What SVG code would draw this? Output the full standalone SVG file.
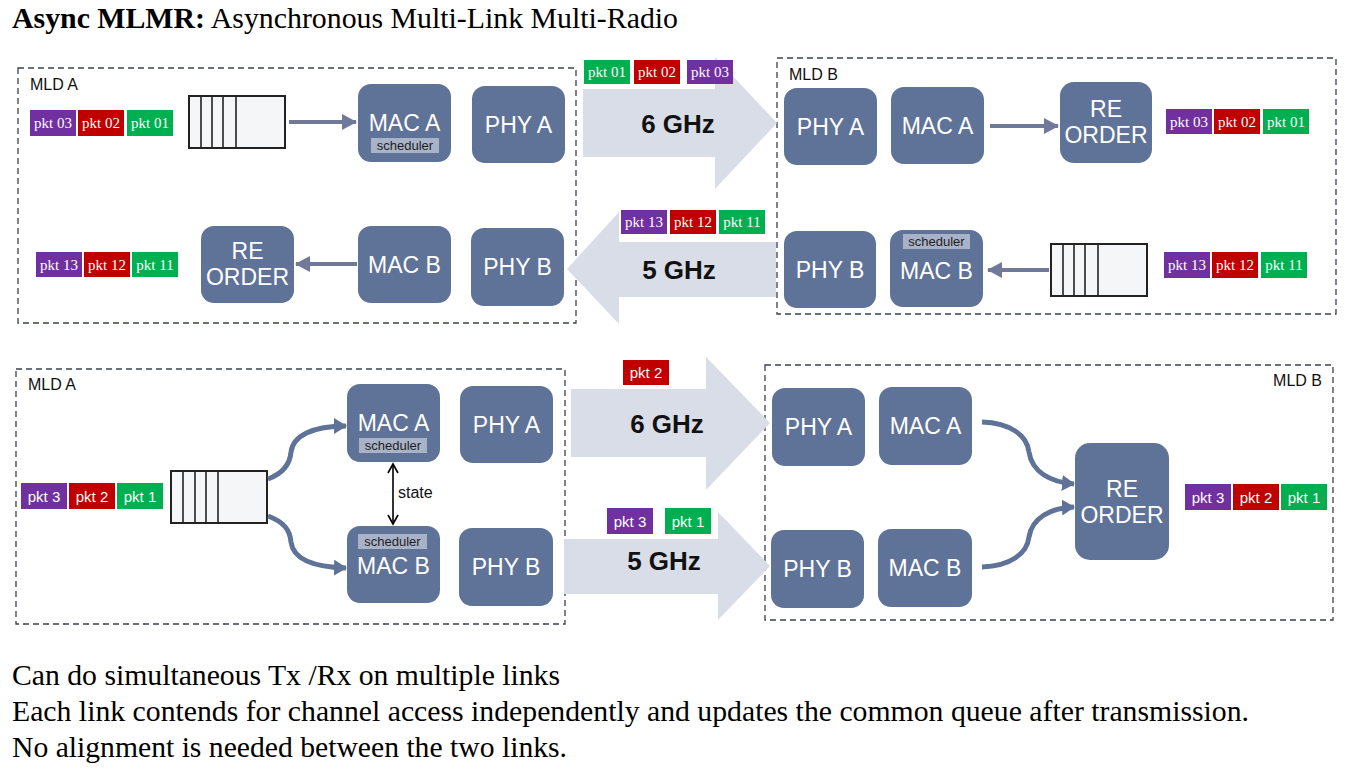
<svg xmlns="http://www.w3.org/2000/svg" width="1356" height="779" viewBox="0 0 1356 779">
<style>
.node{fill:#5f7297}
.nt{fill:#fff;font-family:"Liberation Sans",Arial,sans-serif;font-size:23px;text-anchor:middle}
.sch{fill:#a9b3c7}
.scht{fill:#1e1e24;font-family:"Liberation Sans",Arial,sans-serif;font-size:13px;text-anchor:middle}
.P{fill:#7030a0}.R{fill:#c00000}.G{fill:#00b050}
.tt{fill:#fff;font-family:"Liberation Serif","Times New Roman",serif;font-size:15px;text-anchor:middle}
.ts{fill:#fff;font-family:"Liberation Sans",Arial,sans-serif;font-size:15px;text-anchor:middle}
.box{fill:none;stroke:#3c4150;stroke-width:1.3;stroke-dasharray:6 4}
.lbl{fill:#111;font-family:"Liberation Sans",Arial,sans-serif;font-size:16px}
.big{fill:#d9dde7}
.ghz{fill:#111;font-family:"Liberation Sans",Arial,sans-serif;font-size:26px;font-weight:bold;text-anchor:middle}
.q{fill:#f5f6f8;stroke:#222;stroke-width:2}
.qd{stroke:#222;stroke-width:1.6}
.sa{fill:none;stroke:#70799a;stroke-width:4}
.ca{fill:none;stroke:#5f7297;stroke-width:5}
.body{fill:#000;font-family:"Liberation Serif","Times New Roman",serif;font-size:30px}
</style>
<defs>
<marker id="ahg" markerUnits="userSpaceOnUse" markerWidth="15" markerHeight="16" refX="14" refY="8" orient="auto"><path d="M0,0 L15,8 L0,16 z" fill="#70799a"/></marker>
<marker id="ahb" markerUnits="userSpaceOnUse" markerWidth="13" markerHeight="16" refX="12" refY="8" orient="auto"><path d="M0,0 L13,8 L0,16 z" fill="#5f7297"/></marker>
<marker id="ahs" markerUnits="userSpaceOnUse" markerWidth="12" markerHeight="12" refX="10" refY="6" orient="auto-start-reverse"><path d="M1,1 L10,6 L1,11" fill="none" stroke="#000" stroke-width="1.6"/></marker>
</defs>
<rect width="1356" height="779" fill="#fff"/>

<text x="12" y="28" class="body" textLength="666" lengthAdjust="spacingAndGlyphs"><tspan font-weight="bold">Async MLMR:</tspan> Asynchronous Multi-Link Multi-Radio</text>

<!-- ===== TOP SCENARIO ===== -->
<g id="top-mldA">
<rect class="box" x="18" y="68" width="558" height="255"/>
<text class="lbl" x="30" y="90">MLD A</text>
</g>
<g id="top-mldB">
<rect class="box" x="777" y="58" width="559" height="256"/>
<text class="lbl" x="789" y="80">MLD B</text>
</g>

<g id="top-link-6ghz">
<polygon class="big" points="583,89 715,89 715,57 777,123 715,189 715,157 583,157"/>
<text class="ghz" x="678" y="133">6 GHz</text>
<rect class="G" x="584" y="60" width="46" height="24"/><text class="tt" x="607" y="77">pkt 01</text>
<rect class="R" x="634" y="60" width="46" height="24"/><text class="tt" x="657" y="77">pkt 02</text>
<rect class="P" x="687" y="60" width="46" height="24"/><text class="tt" x="710" y="77">pkt 03</text>
</g>
<g id="top-link-5ghz">
<polygon class="big" points="776,242 619,242 619,212 567,269 619,324 619,297 776,297"/>
<text class="ghz" x="679" y="279">5 GHz</text>
<rect class="P" x="621" y="210" width="46" height="24"/><text class="tt" x="644" y="227">pkt 13</text>
<rect class="R" x="670" y="210" width="46" height="24"/><text class="tt" x="693" y="227">pkt 12</text>
<rect class="G" x="719" y="210" width="46" height="24"/><text class="tt" x="742" y="227">pkt 11</text>
</g>

<g id="top-A-pkts-tx">
<rect class="P" x="30" y="110" width="46" height="26"/><text class="tt" x="53" y="128">pkt 03</text>
<rect class="R" x="78" y="110" width="46" height="26"/><text class="tt" x="101" y="128">pkt 02</text>
<rect class="G" x="127" y="110" width="46" height="26"/><text class="tt" x="150" y="128">pkt 01</text>
</g>
<g id="top-A-queue">
<rect class="q" x="189" y="96" width="96" height="52"/>
<line class="qd" x1="201" y1="96" x2="201" y2="148"/><line class="qd" x1="212" y1="96" x2="212" y2="148"/><line class="qd" x1="223" y1="96" x2="223" y2="148"/><line class="qd" x1="236" y1="96" x2="236" y2="148"/>
</g>
<g id="top-A-macA">
<rect class="node" x="358" y="84" width="93" height="78" rx="13"/>
<text class="nt" x="404.5" y="131">MAC A</text>
<rect class="sch" x="371" y="138" width="68" height="15"/>
<text class="scht" x="405" y="150">scheduler</text>
</g>
<g id="top-A-phyA">
<rect class="node" x="472" y="86" width="93" height="77" rx="13"/>
<text class="nt" x="518.5" y="133">PHY A</text>
</g>
<g id="top-A-reorder">
<rect class="node" x="201" y="226" width="93" height="77" rx="13"/>
<text class="nt" x="247.5" y="259">RE</text>
<text class="nt" x="247.5" y="285">ORDER</text>
</g>
<g id="top-A-macB">
<rect class="node" x="358" y="226" width="93" height="77" rx="13"/>
<text class="nt" x="404.5" y="273">MAC B</text>
</g>
<g id="top-A-phyB">
<rect class="node" x="471" y="228" width="93" height="78" rx="13"/>
<text class="nt" x="517.5" y="275">PHY B</text>
</g>
<g id="top-A-pkts-rx">
<rect class="P" x="36" y="252" width="46" height="25"/><text class="tt" x="59" y="270">pkt 13</text>
<rect class="R" x="84" y="252" width="46" height="25"/><text class="tt" x="107" y="270">pkt 12</text>
<rect class="G" x="132" y="252" width="46" height="25"/><text class="tt" x="155" y="270">pkt 11</text>
</g>

<g id="top-B-phyA">
<rect class="node" x="784" y="88" width="93" height="77" rx="13"/>
<text class="nt" x="830.5" y="135">PHY A</text>
</g>
<g id="top-B-macA">
<rect class="node" x="891" y="87" width="93" height="77" rx="13"/>
<text class="nt" x="937.5" y="134">MAC A</text>
</g>
<g id="top-B-reorder">
<rect class="node" x="1060" y="82" width="92" height="81" rx="14"/>
<text class="nt" x="1106" y="117">RE</text>
<text class="nt" x="1106" y="143">ORDER</text>
</g>
<g id="top-B-pkts-rx">
<rect class="P" x="1166" y="109" width="46" height="25"/><text class="tt" x="1189" y="127">pkt 03</text>
<rect class="R" x="1214" y="109" width="46" height="25"/><text class="tt" x="1237" y="127">pkt 02</text>
<rect class="G" x="1263" y="109" width="46" height="25"/><text class="tt" x="1286" y="127">pkt 01</text>
</g>
<g id="top-B-phyB">
<rect class="node" x="784" y="231" width="92" height="77" rx="13"/>
<text class="nt" x="830" y="278">PHY B</text>
</g>
<g id="top-B-macB">
<rect class="node" x="890" y="230" width="93" height="77" rx="13"/>
<rect class="sch" x="903" y="234" width="67" height="15"/>
<text class="scht" x="936.5" y="246">scheduler</text>
<text class="nt" x="936.5" y="279">MAC B</text>
</g>
<g id="top-B-queue">
<rect class="q" x="1051" y="244" width="96" height="52"/>
<line class="qd" x1="1063" y1="244" x2="1063" y2="296"/><line class="qd" x1="1074" y1="244" x2="1074" y2="296"/><line class="qd" x1="1085" y1="244" x2="1085" y2="296"/><line class="qd" x1="1098" y1="244" x2="1098" y2="296"/>
</g>
<g id="top-B-pkts-tx">
<rect class="P" x="1164" y="252" width="46" height="26"/><text class="tt" x="1187" y="270">pkt 13</text>
<rect class="R" x="1212" y="252" width="46" height="26"/><text class="tt" x="1235" y="270">pkt 12</text>
<rect class="G" x="1261" y="252" width="46" height="26"/><text class="tt" x="1284" y="270">pkt 11</text>
</g>

<!-- ===== BOTTOM SCENARIO ===== -->
<g id="bot-mldA">
<rect class="box" x="16" y="369" width="549" height="255"/>
<text class="lbl" x="28" y="390">MLD A</text>
</g>
<g id="bot-mldB">
<rect class="box" x="765" y="365" width="568" height="255"/>
<text class="lbl" x="1322" y="386" text-anchor="end">MLD B</text>
</g>

<g id="bot-link-6ghz">
<polygon class="big" points="571,389 706,389 706,357 770,423 706,490 706,457 571,457"/>
<text class="ghz" x="667" y="433">6 GHz</text>
<rect class="R" x="623" y="360" width="46" height="25"/><text class="ts" x="646" y="378">pkt 2</text>
</g>
<g id="bot-link-5ghz">
<polygon class="big" points="564,539 718,539 718,512 770,566 718,620 718,594 564,594"/>
<text class="ghz" x="664" y="570">5 GHz</text>
<rect class="P" x="607" y="508" width="46" height="26"/><text class="ts" x="630" y="527">pkt 3</text>
<rect class="G" x="665" y="508" width="46" height="26"/><text class="ts" x="688" y="527">pkt 1</text>
</g>

<g id="bot-A-pkts">
<rect class="P" x="21" y="483" width="46" height="26"/><text class="ts" x="44" y="502">pkt 3</text>
<rect class="R" x="69" y="483" width="46" height="26"/><text class="ts" x="92" y="502">pkt 2</text>
<rect class="G" x="117" y="483" width="46" height="26"/><text class="ts" x="140" y="502">pkt 1</text>
</g>
<g id="bot-A-queue">
<rect class="q" x="171" y="471" width="96" height="52"/>
<line class="qd" x1="183" y1="471" x2="183" y2="523"/><line class="qd" x1="195" y1="471" x2="195" y2="523"/><line class="qd" x1="206" y1="471" x2="206" y2="523"/><line class="qd" x1="218" y1="471" x2="218" y2="523"/>
</g>
<g id="bot-A-macA">
<rect class="node" x="347" y="384" width="93" height="78" rx="13"/>
<text class="nt" x="393.5" y="431">MAC A</text>
<rect class="sch" x="359" y="438" width="68" height="15"/>
<text class="scht" x="393" y="450">scheduler</text>
</g>
<g id="bot-A-phyA">
<rect class="node" x="460" y="386" width="93" height="77" rx="13"/>
<text class="nt" x="506.5" y="433">PHY A</text>
</g>
<g id="bot-A-macB">
<rect class="node" x="347" y="526" width="93" height="77" rx="13"/>
<rect class="sch" x="358" y="534" width="69" height="15"/>
<text class="scht" x="392.5" y="546">scheduler</text>
<text class="nt" x="393.5" y="574">MAC B</text>
</g>
<g id="bot-A-phyB">
<rect class="node" x="459" y="528" width="94" height="78" rx="13"/>
<text class="nt" x="506" y="575">PHY B</text>
</g>
<text class="lbl" x="398" y="498" font-size="16.5">state</text>

<g id="bot-B-phyA">
<rect class="node" x="772" y="388" width="93" height="78" rx="13"/>
<text class="nt" x="818.5" y="435">PHY A</text>
</g>
<g id="bot-B-macA">
<rect class="node" x="879" y="387" width="93" height="78" rx="13"/>
<text class="nt" x="925.5" y="434">MAC A</text>
</g>
<g id="bot-B-phyB">
<rect class="node" x="771" y="530" width="93" height="78" rx="13"/>
<text class="nt" x="817.5" y="577">PHY B</text>
</g>
<g id="bot-B-macB">
<rect class="node" x="878" y="529" width="94" height="78" rx="13"/>
<text class="nt" x="925" y="576">MAC B</text>
</g>
<g id="bot-B-reorder">
<rect class="node" x="1075" y="443" width="94" height="117" rx="15"/>
<text class="nt" x="1122" y="497">RE</text>
<text class="nt" x="1122" y="523">ORDER</text>
</g>
<g id="bot-B-pkts">
<rect class="P" x="1185" y="484" width="46" height="26"/><text class="ts" x="1208" y="503">pkt 3</text>
<rect class="R" x="1233" y="484" width="46" height="26"/><text class="ts" x="1256" y="503">pkt 2</text>
<rect class="G" x="1281" y="484" width="46" height="26"/><text class="ts" x="1304" y="503">pkt 1</text>
</g>

<g id="connectors">
<line class="sa" x1="289" y1="122" x2="356" y2="122" marker-end="url(#ahg)"/>
<line class="sa" x1="357" y1="264" x2="296" y2="264" marker-end="url(#ahg)"/>
<line class="sa" x1="990" y1="126" x2="1058" y2="126" marker-end="url(#ahg)"/>
<line class="sa" x1="1049" y1="270" x2="988" y2="270" marker-end="url(#ahg)"/>
<path class="ca" d="M268,479 C284,473 290,464 291,452 C293,436 312,426 346,426" marker-end="url(#ahb)"/>
<path class="ca" d="M268,516 C284,522 290,530 291,542 C293,558 312,567 346,568" marker-end="url(#ahb)"/>
<path class="ca" d="M982,422 C1010,423 1027,435 1029,452 C1032,472 1050,482 1074,484" marker-end="url(#ahb)"/>
<path class="ca" d="M982,567 C1010,566 1027,554 1029,537 C1032,518 1050,508 1074,507" marker-end="url(#ahb)"/>
<line x1="393" y1="464" x2="393" y2="524" stroke="#000" stroke-width="1.6" marker-start="url(#ahs)" marker-end="url(#ahs)"/>
</g>

<text class="body" x="12" y="685" textLength="548" lengthAdjust="spacingAndGlyphs">Can do simultaneous Tx /Rx on multiple links</text>
<text class="body" x="12" y="721" textLength="1237" lengthAdjust="spacingAndGlyphs">Each link contends for channel access independently and updates the common queue after transmission.</text>
<text class="body" x="12" y="757" textLength="555" lengthAdjust="spacingAndGlyphs">No alignment is needed between the two links.</text>
</svg>
